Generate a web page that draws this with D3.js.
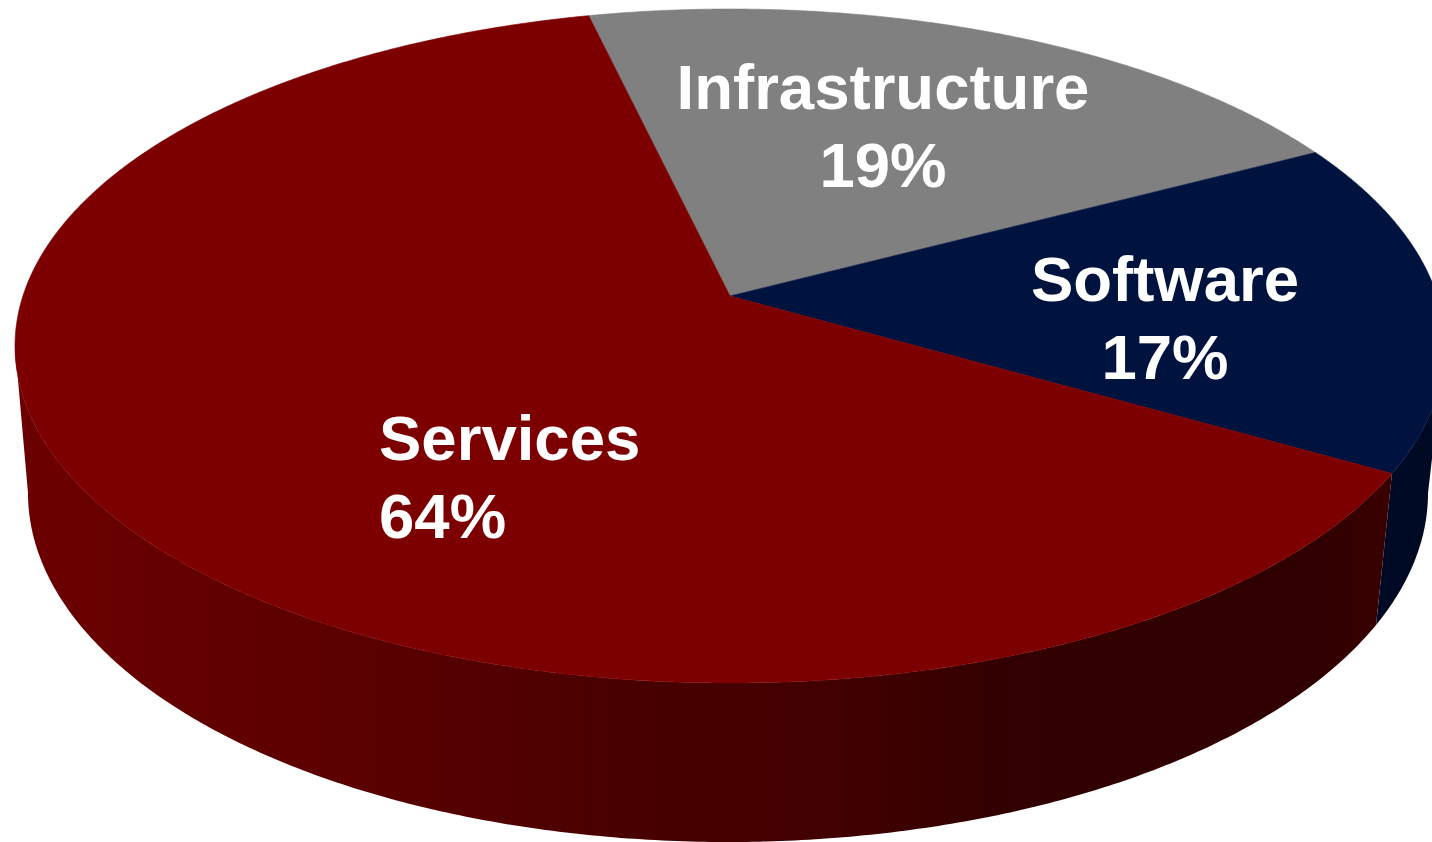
<!DOCTYPE html>
<html>
<head>
<meta charset="utf-8">
<style>
  html, body { margin: 0; padding: 0; background: #fff; }
  svg { display: block; }
  text { font-family: "Liberation Sans", Arial, sans-serif; font-weight: 700; fill: #fff; }
</style>
<script src="https://cdn.jsdelivr.net/npm/d3@7/dist/d3.min.js"></script>
</head>
<body>
<svg id="chart" width="1432" height="842"></svg>
<script>
// Revenue split
const categories = ["Infrastructure", "Software", "Services"];
const shares = [19, 17, 64];

// Per-slice styling, in the same order as the categories
const faceColors = ["#808080", "#00133f", "#7d0000"];
const wallColors = [null, "#000a24", "url(#servicesWall)"];

// Shading along the services wall, left to right
const wallStopOffsets = [0, 0.11, 0.33, 0.45, 0.6, 0.72, 0.95, 1];
const wallStopColors = ["#6c0000", "#640000", "#540000", "#480000", "#420000", "#320000", "#300000", "#3a0000"];

// Label layout: anchor, x, and the two baselines
const labelLayout = [
  { anchor: "middle", x: 883, y1: 109, y2: 187 },
  { anchor: "middle", x: 1165, y1: 301, y2: 379 },
  { anchor: "start", x: 379, y1: 460, y2: 538 }
];

// Projection of the tilted disc: hub, top and bottom rim ellipses, and the
// linear map from disc directions to screen directions
const hub = { x: 730, y: 296 };
const topRim = { cx: 730, cy: 346, a: 715, b: 337 };
const bottomRim = { cx: 728, cy: 493, a: 700, b: 349 };
const tilt = { xx: 738, xy: 33, yx: 21, yy: 320 };
const startDeg = -10;

const svg = d3.select("#chart");
const defs = svg.append("defs");

const grad = defs.append("linearGradient")
  .attr("id", "servicesWall")
  .attr("gradientUnits", "userSpaceOnUse")
  .attr("x1", 15).attr("x2", 1390).attr("y1", 0).attr("y2", 0);
grad.selectAll("stop").data(wallStopOffsets).join("stop")
  .attr("offset", d => d)
  .attr("stop-color", (d, i) => wallStopColors[i]);

// Where the ray from the hub at a given pie angle meets the top rim
function rimPoint(angle) {
  const u = Math.sin(angle), v = -Math.cos(angle);
  const dx = tilt.xx * u + tilt.xy * v;
  const dy = tilt.yx * u + tilt.yy * v;
  const ox = (hub.x - topRim.cx) / topRim.a, oy = (hub.y - topRim.cy) / topRim.b;
  const px = dx / topRim.a, py = dy / topRim.b;
  const A = px * px + py * py, B = 2 * (ox * px + oy * py), C = ox * ox + oy * oy - 1;
  const t = (-B + Math.sqrt(B * B - 4 * A * C)) / (2 * A);
  return [hub.x + t * dx, hub.y + t * dy];
}

// Ellipse parameter of a point on the top rim
function rimParam(p) {
  return Math.atan2((p[1] - topRim.cy) / topRim.b, (p[0] - topRim.cx) / topRim.a);
}

const onEllipse = (e, t) => [e.cx + e.a * Math.cos(t), e.cy + e.b * Math.sin(t)];

const pie = d3.pie().sort(null).startAngle(startDeg * Math.PI / 180)
  .endAngle((startDeg + 360) * Math.PI / 180);
const arcs = pie(shares);
const line = d3.line().curve(d3.curveLinear);

function sweep(a0, a1, step) {
  const n = Math.max(2, Math.ceil(Math.abs(a1 - a0) / step));
  return d3.range(n + 1).map(i => a0 + (a1 - a0) * i / n);
}

// Side walls. Only the part of the rim facing the viewer (0 to 180 degrees of
// ellipse parameter) is visible.
const wallGroup = svg.append("g");
arcs.forEach((d, i) => {
  if (!wallColors[i]) return;
  const t0 = Math.max(rimParam(rimPoint(d.startAngle)), 0);
  const t1 = i === 2 ? Math.PI : rimParam(rimPoint(d.endAngle));
  const ts = sweep(t0, t1, 0.01);
  const pts = ts.map(t => onEllipse(topRim, t))
    .concat(ts.slice().reverse().map(t => onEllipse(bottomRim, t)));
  wallGroup.append("path")
    .attr("d", line(pts) + "Z")
    .attr("fill", wallColors[i]);
});

// Top faces of the slices
svg.append("g").selectAll("path").data(arcs).join("path")
  .attr("d", d => {
    const pts = sweep(d.startAngle, d.endAngle, 0.005).map(rimPoint);
    return line([[hub.x, hub.y], ...pts]) + "Z";
  })
  .attr("fill", (d, i) => faceColors[i])
  .attr("stroke", (d, i) => faceColors[i])
  .attr("stroke-width", 0.6);

// Labels: name over percentage
const labels = svg.append("g").selectAll("g").data(categories).join("g");
labels.append("text")
  .attr("x", (d, i) => labelLayout[i].x)
  .attr("y", (d, i) => labelLayout[i].y1)
  .attr("text-anchor", (d, i) => labelLayout[i].anchor)
  .attr("font-size", 63.5)
  .text(d => d);
labels.append("text")
  .attr("x", (d, i) => labelLayout[i].x)
  .attr("y", (d, i) => labelLayout[i].y2)
  .attr("text-anchor", (d, i) => labelLayout[i].anchor)
  .attr("font-size", 63.5)
  .text((d, i) => shares[i] + "%");
</script>
</body>
</html>
